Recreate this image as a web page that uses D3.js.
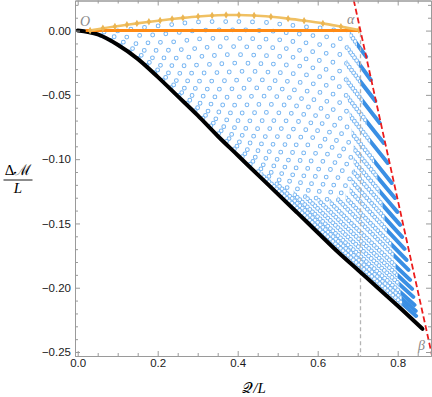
<!DOCTYPE html>
<html>
<head>
<meta charset="utf-8">
<script src="https://cdn.jsdelivr.net/npm/d3@7"></script>
<style>
  body { margin: 0; background: #ffffff; }
  svg { display: block; }
</style>
</head>
<body>
<svg id="chart"></svg>
<script>
const width = 432, height = 397
const margin = { top: 0.5, right: 1, bottom: 41, left: 75 }

// lower envelope (black)
const blackQ = [0, 0.05, 0.1, 0.15, 0.2, 0.25, 0.3, 0.35, 0.4, 0.45, 0.5, 0.55, 0.6, 0.65, 0.7, 0.75, 0.8, 0.862]
const blackM = [0, -0.003, -0.011, -0.022, -0.036, -0.051, -0.066, -0.082, -0.097, -0.112, -0.127, -0.142, -0.157, -0.172, -0.186, -0.200, -0.214, -0.232]

// upper curve with diamonds (light orange)
const topQ = [0.031, 0.063, 0.093, 0.123, 0.148, 0.178, 0.206, 0.236, 0.263, 0.301, 0.336, 0.371, 0.403, 0.441, 0.483, 0.526, 0.566, 0.613, 0.658, 0.703]
const topM = [0.0, 0.0018, 0.0032, 0.0045, 0.0056, 0.0068, 0.0079, 0.0090, 0.0099, 0.0110, 0.0117, 0.0121, 0.0121, 0.0117, 0.0107, 0.0093, 0.0077, 0.0056, 0.0031, 0.0005]

// flat orange segment O -> alpha
const orangeQ = [0.02, 0.707]
const orangeM = [0, 0]

// red dashed bound through alpha and beta
const redQ = [0.690, 0.886]
const redM = [0.0238, -0.253]

const alphaQ = 0.707

// blue families, one polyline per row (start on top, end near the red line)
const rows = [
  [[.673, .0005], [.697, -.0099], [.721, -.0203]],
  [[.640, .0005], [.687, -.0190], [.733, -.0384]],
  [[.606, .0020], [.675, -.0268], [.744, -.0547]],
  [[.572, .0028], [.664, -.0353], [.755, -.0718]],
  [[.538, .0040], [.652, -.0428], [.765, -.0874]],
  [[.505, .0051], [.640, -.0501], [.775, -.1029]],
  [[.472, .0063], [.629, -.0575], [.785, -.1185]],
  [[.437, .0067], [.615, -.0632], [.793, -.1302]],
  [[.403, .0070], [.601, -.0685], [.799, -.1410]],
  [[.370, .0070], [.588, -.0736], [.806, -.1511]],
  [[.336, .0070], [.574, -.0785], [.811, -.1605]],
  [[.302, .0067], [.560, -.0837], [.817, -.1698]],
  [[.268, .0059], [.3, -.0049], [.4, -.0395], [.5, -.0732], [.6, -.1069], [.7, -.1396], [.822, -.1784]],
  [[.235, .0047], [.3, -.0165], [.4, -.0501], [.5, -.0827], [.6, -.1153], [.7, -.1469], [.827, -.1861]],
  [[.201, .0036], [.25, -.0119], [.3, -.0278], [.4, -.0605], [.5, -.0922], [.6, -.1239], [.7, -.1547], [.831, -.1939]],
  [[.167, .0024], [.2, -.0071], [.25, -.0225], [.3, -.0379], [.4, -.0698], [.5, -.1006], [.6, -.1315], [.7, -.1613], [.836, -.2009]],
  [[.133, .0012], [.15, -.0025], [.2, -.0166], [.25, -.0317], [.3, -.0468], [.4, -.0780], [.5, -.1082], [.6, -.1384], [.7, -.1676], [.839, -.2071]],
  [[.100, -.0003], [.15, -.0112], [.2, -.0250], [.25, -.0399], [.3, -.0547], [.4, -.0854], [.5, -.1151], [.6, -.1448], [.7, -.1736], [.842, -.2134]],
  [[.066, -.0011], [.1, -.0063], [.15, -.0170], [.2, -.0307], [.3, -.0601], [.4, -.0905], [.5, -.1199], [.6, -.1493], [.7, -.1778], [.845, -.2180]],
  [[.032, -.0012], [.05, -.0029], [.1, -.0105], [.15, -.0212], [.2, -.0349], [.3, -.0642], [.4, -.0946], [.5, -.1239], [.6, -.1532], [.7, -.1815], [.846, -.2219]],
]
// where the circles on each row get packed (Q value), and where they merge into a solid band
const rowHatchFrom = [.680, .675, .672, .672, .675, .680, .685, .690, .690, .690, .685, .680, .670, .650, .630, .600, .570, .540, .500, .460]
const rowSolidFrom = [.698, .703, .706, .713, .722, .731, .741, .749, .755, .762, .767, .773, .784, .790, .795, .800, .804, .807, .810, .811]

const xMajor = [0, 0.2, 0.4, 0.6, 0.8]
const yMajor = [0, -0.05, -0.1, -0.15, -0.2, -0.25]

const svg = d3.select("svg#chart")
    .attr("width", width)
    .attr("height", height)
    .attr("viewBox", [0, 0, width, height])
    .style("background", "#ffffff")

const x = d3.scaleLinear()
    .domain([-0.00675, 0.88325])
    .range([margin.left, width - margin.right])

const y = d3.scaleLinear()
    .domain([0.0234, -0.2531])
    .range([margin.top, height - margin.bottom])

const defs = svg.append("defs")
defs.append("clipPath").attr("id", "plot-area")
    .append("rect")
    .attr("x", margin.left).attr("y", margin.top)
    .attr("width", width - margin.left - margin.right)
    .attr("height", height - margin.top - margin.bottom)

const zip = (a, b) => a.map((v, i) => [v, b[i]])
const rowLine = d3.line().x(d => x(d[0])).y(d => y(d[1])).curve(d3.curveCatmullRom)

const plot = svg.append("g").attr("clip-path", "url(#plot-area)")

// blue rings along each row
const ringColor = "#78b6f2"
const rowsG = plot.append("g")
rows.forEach((pts, i) => {
    const parts = [
        [pts[0][0] - 0.01, rowHatchFrom[i], 11],
        [rowHatchFrom[i], rowSolidFrom[i], 3.5],
        [rowSolidFrom[i], 0.9, 0],
    ]
    parts.forEach(([lo, hi, gap], k) => {
        const id = `row-${i}-${k}`
        defs.append("clipPath").attr("id", id)
            .append("rect")
            .attr("x", x(lo)).attr("y", 0)
            .attr("width", Math.max(0, x(hi) - x(lo)))
            .attr("height", height)
        const g = rowsG.append("g").attr("clip-path", `url(#${id})`)
        if (gap) {
            g.append("path")
                .attr("d", rowLine(pts))
                .attr("fill", "none")
                .attr("stroke", ringColor)
                .attr("stroke-width", 4.8)
                .attr("stroke-linecap", "round")
                .attr("stroke-dasharray", `0 ${gap}`)
            g.append("path")
                .attr("d", rowLine(pts))
                .attr("fill", "none")
                .attr("stroke", "#ffffff")
                .attr("stroke-width", 2.8)
                .attr("stroke-linecap", "round")
                .attr("stroke-dasharray", `0 ${gap}`)
        } else {
            g.append("path")
                .attr("d", rowLine(pts))
                .attr("fill", "none")
                .attr("stroke", "#3a8fe4")
                .attr("stroke-width", 4)
                .attr("stroke-linecap", "round")
        }
    })
})

// vertical gray dashed at alpha
plot.append("line")
    .attr("x1", x(alphaQ)).attr("x2", x(alphaQ))
    .attr("y1", y(-0.002)).attr("y2", y(-0.2531))
    .attr("stroke", "#b4b4b4")
    .attr("stroke-width", 1.3)
    .attr("stroke-dasharray", "4,3")

// black envelope
plot.append("path")
    .attr("d", d3.line().x(d => x(d[0])).y(d => y(d[1])).curve(d3.curveMonotoneX)(zip(blackQ, blackM)))
    .attr("fill", "none")
    .attr("stroke", "#000000")
    .attr("stroke-width", 4)
    .attr("stroke-linecap", "round")
    .attr("stroke-linejoin", "round")

// orange flat line
plot.append("path")
    .attr("d", d3.line().x(d => x(d[0])).y(d => y(d[1]))(zip(orangeQ, orangeM)))
    .attr("fill", "none")
    .attr("stroke", "#ff8a14")
    .attr("stroke-width", 3)

// light orange curve with diamonds
const topPts = zip(topQ, topM)
plot.append("path")
    .attr("d", d3.line().x(d => x(d[0])).y(d => y(d[1])).curve(d3.curveMonotoneX)(topPts))
    .attr("fill", "none")
    .attr("stroke", "#f0c062")
    .attr("stroke-width", 2.6)
plot.selectAll("path.diamond")
    .data(topPts)
    .join("path").attr("class", "diamond")
    .attr("transform", d => `translate(${x(d[0])},${y(d[1])})`)
    .attr("d", d3.symbol(d3.symbolDiamond, 16))
    .attr("fill", "#ebb552")

// red dashed bound
plot.append("path")
    .attr("d", d3.line().x(d => x(d[0])).y(d => y(d[1]))(zip(redQ, redM)))
    .attr("fill", "none")
    .attr("stroke", "#ec1c1c")
    .attr("stroke-width", 1.8)
    .attr("stroke-dasharray", "6,3")

// point labels
const ptLabel = (tx, ty, s) => svg.append("text")
    .attr("x", tx).attr("y", ty)
    .attr("fill", "#8a8a8a")
    .style("font", "italic 14px 'Liberation Serif', 'DejaVu Serif', serif")
    .text(s)
ptLabel(80, 25.5, "O")
ptLabel(347, 23.5, "α")
ptLabel(418, 350, "β")

// frame and ticks
const gray = "#9a9a9a"
function styleAxis(g) {
    g.select(".domain").attr("stroke", gray).attr("stroke-width", 1)
    g.selectAll(".tick line").attr("stroke", gray)
    g.selectAll(".tick text")
        .attr("fill", "#1a1a1a")
        .style("font", "11.5px 'Liberation Sans', Arial, sans-serif")
}

const xMinor = d3.range(0, 0.87, 0.05).filter(v => xMajor.every(m => Math.abs(m - v) > 1e-6))
const yMinor = d3.range(0.02, -0.255, -0.01).filter(v => yMajor.every(m => Math.abs(m - v) > 1e-6))
const fmtX = d3.format(".1f"), fmtY = d3.format(".2f")

const bottomY = height - margin.bottom, rightX = width - margin.right

svg.append("g").attr("transform", `translate(0,${bottomY})`)
    .call(d3.axisBottom(x).tickValues(xMajor).tickFormat(fmtX).tickSizeInner(-5).tickSizeOuter(0).tickPadding(3))
    .call(styleAxis)
svg.append("g").attr("transform", `translate(0,${bottomY})`)
    .call(d3.axisBottom(x).tickValues(xMinor).tickFormat("").tickSizeInner(-3).tickSizeOuter(0))
    .call(styleAxis)
svg.append("g").attr("transform", `translate(0,${margin.top})`)
    .call(d3.axisTop(x).tickValues(xMajor).tickFormat("").tickSizeInner(-5).tickSizeOuter(0))
    .call(styleAxis)
svg.append("g").attr("transform", `translate(0,${margin.top})`)
    .call(d3.axisTop(x).tickValues(xMinor).tickFormat("").tickSizeInner(-3).tickSizeOuter(0))
    .call(styleAxis)

svg.append("g").attr("transform", `translate(${margin.left},0)`)
    .call(d3.axisLeft(y).tickValues(yMajor).tickFormat(fmtY).tickSizeInner(-5).tickSizeOuter(0).tickPadding(4))
    .call(styleAxis)
svg.append("g").attr("transform", `translate(${margin.left},0)`)
    .call(d3.axisLeft(y).tickValues(yMinor).tickFormat("").tickSizeInner(-3).tickSizeOuter(0))
    .call(styleAxis)
svg.append("g").attr("transform", `translate(${rightX},0)`)
    .call(d3.axisRight(y).tickValues(yMajor).tickFormat("").tickSizeInner(-5).tickSizeOuter(0))
    .call(styleAxis)
svg.append("g").attr("transform", `translate(${rightX},0)`)
    .call(d3.axisRight(y).tickValues(yMinor).tickFormat("").tickSizeInner(-3).tickSizeOuter(0))
    .call(styleAxis)

// axis titles
const serif = "'Liberation Serif', 'DejaVu Serif', serif"
const yTitle = svg.append("g").attr("transform", "translate(18,0)")
yTitle.append("text")
    .attr("x", 0).attr("y", 175)
    .attr("text-anchor", "middle")
    .style("font", `15px ${serif}`)
    .text("Δℳ")
yTitle.append("line")
    .attr("x1", -14.5).attr("x2", 14.5)
    .attr("y1", 180).attr("y2", 180)
    .attr("stroke", "#000").attr("stroke-width", 0.9)
yTitle.append("text")
    .attr("x", 0).attr("y", 193)
    .attr("text-anchor", "middle")
    .style("font", `italic 15px ${serif}`)
    .text("L")

const xTitle = svg.append("text")
    .attr("x", 254).attr("y", 393)
    .attr("text-anchor", "middle")
    .style("font", `15px ${serif}`)
xTitle.append("tspan").text("𝒬")
xTitle.append("tspan").style("font-style", "italic").text("/L")
</script>
</body>
</html>
